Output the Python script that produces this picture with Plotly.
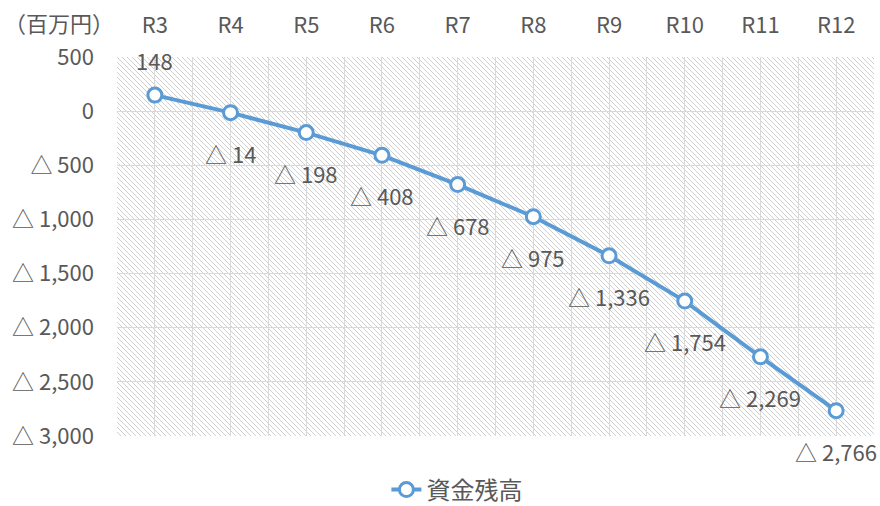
import base64
import plotly.graph_objects as go

categories = ["R3", "R4", "R5", "R6", "R7", "R8", "R9", "R10", "R11", "R12"]
values = [148, -14, -198, -408, -678, -975, -1336, -1754, -2269, -2766]
y_ticks = [500, 0, -500, -1000, -1500, -2000, -2500, -3000]
series_name = "資金残高"
unit_label = "（百万円）"


def fmt(v):
    return f"{v:,}" if v >= 0 else f"△ {abs(v):,}"


FONT = "Noto Sans CJK JP, Noto Sans, sans-serif"
FS = 22
GRAY = "#595959"
BLUE = "#5B9BD5"

x_idx = list(range(len(categories)))

fig = go.Figure()
fig.add_trace(go.Scatter(
    x=x_idx, y=values, mode="lines+markers", name=series_name,
    line=dict(color=BLUE, width=4),
    marker=dict(symbol="circle", size=14, color="white", line=dict(color=BLUE, width=3)),
    hoverinfo="skip",
))

for xi, v in zip(x_idx, values):
    fig.add_annotation(
        x=xi, y=v, text=fmt(v), showarrow=False,
        yshift=35 if v >= 0 else -40,
        font=dict(family=FONT, size=FS, color=GRAY),
    )

fig.add_annotation(
    xref="paper", yref="paper", x=-0.152, y=1.0, yshift=35, yanchor="middle",
    text=unit_label, showarrow=False, xanchor="left",
    font=dict(family=FONT, size=FS, color=GRAY),
)

# hatched plot-area background
W, H = 757, 379
svg = f'''<svg xmlns="http://www.w3.org/2000/svg" width="{W}" height="{H}" viewBox="0 0 {W} {H}" preserveAspectRatio="none">
<defs><pattern id="p" patternUnits="userSpaceOnUse" width="5" height="5">
<path d="M0,0 L5,5 M-1,4 L1,6 M4,-1 L6,1" stroke="#d0d0d0" stroke-width="1"/>
</pattern></defs>
<rect width="{W}" height="{H}" fill="url(#p)"/></svg>'''
src = "data:image/svg+xml;base64," + base64.b64encode(svg.encode()).decode()
fig.add_layout_image(dict(
    source=src, xref="paper", yref="paper", x=0, y=1, sizex=1, sizey=1,
    xanchor="left", yanchor="top", sizing="stretch", layer="below",
))

fig.update_layout(
    width=880, height=506,
    margin=dict(l=117, r=6, t=57, b=70, autoexpand=False),
    paper_bgcolor="white", plot_bgcolor="rgba(0,0,0,0)",
    font=dict(family=FONT, size=FS, color=GRAY),
    showlegend=True,
    legend=dict(orientation="h", x=0.449, xanchor="center", y=-0.1425, yanchor="middle",
                font=dict(family=FONT, size=24, color=GRAY)),
    xaxis=dict(
        side="top", range=[-0.5, len(categories) - 0.5],
        tickmode="array", tickvals=x_idx, ticktext=categories,
        showgrid=True, gridcolor="#d9d9d9", gridwidth=1,
        minor=dict(showgrid=True, gridcolor="#d9d9d9", gridwidth=1, tick0=-0.5, dtick=1),
        zeroline=False, showline=False, ticks="", ticklabelstandoff=19,
        tickfont=dict(family=FONT, size=FS, color=GRAY),
    ),
    yaxis=dict(
        range=[-3000, 500], tickmode="array", tickvals=y_ticks,
        ticktext=[fmt(v) for v in y_ticks],
        showgrid=True, gridcolor="#d9d9d9", gridwidth=1,
        zeroline=False, showline=False, ticks="", ticklabelstandoff=22,
        tickfont=dict(family=FONT, size=FS, color=GRAY),
    ),
)

fig.write_html("out.html")
